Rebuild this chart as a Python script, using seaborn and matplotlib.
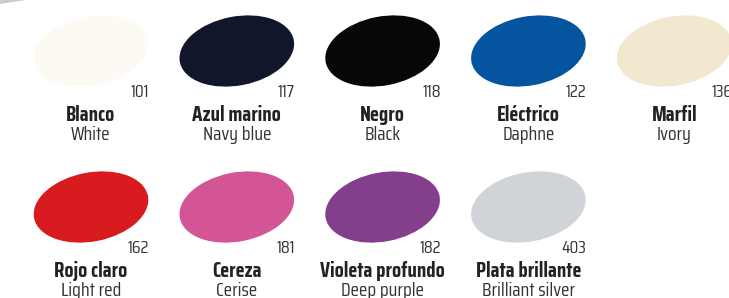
import matplotlib
matplotlib.use("Agg")
import matplotlib.pyplot as plt
import seaborn as sns
from matplotlib.patches import Ellipse, Polygon

# swatch data
names_es = ["Blanco", "Azul marino", "Negro", "Eléctrico", "Marfil",
            "Rojo claro", "Cereza", "Violeta profundo", "Plata brillante"]
names_en = ["White", "Navy blue", "Black", "Daphne", "Ivory",
            "Light red", "Cerise", "Deep purple", "Brilliant silver"]
codes = ["101", "117", "118", "122", "136", "162", "181", "182", "403"]
colors = ["#fcfaf2", "#11162b", "#060807", "#0454a0", "#f2e8cf",
          "#d81b1f", "#d35596", "#843f8c", "#d0d4d9"]

sns.set_theme(style="white")
plt.rcParams['font.family'] = ['Saira Condensed', 'DejaVu Sans']

fig = plt.figure(figsize=(7.29, 2.98), dpi=100)
ax = fig.add_axes([0, 0, 1, 1])
ax.set_xlim(0, 729)
ax.set_ylim(298, 0)
ax.axis("off")

n_cols = 5
x0, dx = 91, 145.8
y0, dy = 51, 156

for i, (es, en, code, col) in enumerate(zip(names_es, names_en, codes, colors)):
    cx = x0 + (i % n_cols) * dx
    cy = y0 + (i // n_cols) * dy
    ax.add_patch(Ellipse((cx, cy), 116, 69, angle=-11, facecolor=col,
                         edgecolor="none"))
    ax.text(cx + 58, cy + 46, code, ha="right", va="baseline",
            fontsize=13, fontweight=400, color="#333333")
    ax.text(cx, cy + 70, es, ha="center", va="baseline", fontsize=15,
            fontweight="bold", color="#222222")
    ax.text(cx, cy + 89, en, ha="center", va="baseline", fontsize=14,
            fontweight=400, color="#333333")

# grey page edge at the top left corner
ax.add_patch(Polygon([(0, 0), (26, 0), (0, 4)], closed=True,
                     facecolor="#cccccc", edgecolor="none"))

fig.savefig("out.png", dpi=100)
